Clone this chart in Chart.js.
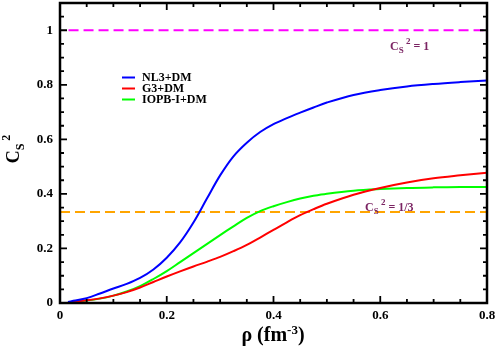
<!DOCTYPE html>
<html>
<head>
<meta charset="utf-8">
<script src="https://cdn.jsdelivr.net/npm/chart.js"></script>
<style>
  body { margin: 0; background: #fff; }
</style>
</head>
<body>
<canvas id="myChart" width="498" height="351"></canvas>
<script>
// density grid (fm^-3) and squared sound speed for each model
const rho  = [0.015, 0.025, 0.05, 0.075, 0.1, 0.125, 0.15, 0.175, 0.2, 0.225, 0.25, 0.275, 0.3, 0.325, 0.35, 0.375, 0.4, 0.425, 0.45, 0.475, 0.5, 0.55, 0.6, 0.65, 0.7, 0.75, 0.8];
const nl3  = [0.004, 0.008, 0.018, 0.035, 0.053, 0.07, 0.092, 0.123, 0.166, 0.222, 0.295, 0.382, 0.468, 0.538, 0.588, 0.627, 0.656, 0.678, 0.698, 0.717, 0.735, 0.763, 0.781, 0.794, 0.803, 0.81, 0.816];
const g3   = [0.003, 0.005, 0.01, 0.017, 0.027, 0.04, 0.057, 0.077, 0.097, 0.116, 0.134, 0.151, 0.169, 0.19, 0.213, 0.24, 0.268, 0.296, 0.322, 0.344, 0.364, 0.397, 0.422, 0.442, 0.457, 0.468, 0.478];
const iopb = [0.003, 0.005, 0.009, 0.016, 0.027, 0.042, 0.062, 0.088, 0.117, 0.15, 0.183, 0.216, 0.249, 0.281, 0.312, 0.337, 0.355, 0.37, 0.383, 0.393, 0.401, 0.412, 0.418, 0.422, 0.424, 0.425, 0.425];
const seriesNames = ['NL3+DM', 'G3+DM', 'IOPB-I+DM'];
const seriesColors = ['#0000ff', '#ff0000', '#00ff00'];

// causal limit and conformal limit
const limitOneX = [0.016, 0.8];
const limitOne = [1, 1];
const limitThirdX = [0, 0.8];
const limitThird = [1 / 3, 1 / 3];

const xTicks = [0, 0.2, 0.4, 0.6, 0.8];
const yTicks = [0, 0.2, 0.4, 0.6, 0.8, 1];

const SERIF = "'Liberation Serif', 'Times New Roman', serif";
const NOTE = '#7b2463';

function pts(xs, ys) {
  return xs.map((x, i) => ({ x: x, y: ys[i] }));
}

// C with subscript S and superscript 2, then optional tail text
function drawCs(ctx, x, y, big, small, sub, sup, tail, tailSize) {
  ctx.font = 'bold ' + big + 'px ' + SERIF;
  ctx.fillText('C', x, y);
  x += ctx.measureText('C').width;
  ctx.font = 'bold ' + small + 'px ' + SERIF;
  ctx.fillText('S', x, y + sub);
  x += ctx.measureText('S ').width;
  ctx.fillText('2', x, y - sup);
  x += ctx.measureText('2').width;
  if (tail) {
    ctx.font = 'bold ' + tailSize + 'px ' + SERIF;
    ctx.fillText(tail, x, y);
  }
}

const decor = {
  id: 'decor',
  afterDraw(chart) {
    const ctx = chart.ctx;
    const a = chart.chartArea;
    const xs = chart.scales.x, ys = chart.scales.y;
    ctx.save();

    // inward ticks on all four sides
    ctx.strokeStyle = '#000';
    ctx.lineWidth = 1.8;
    ctx.beginPath();
    for (let i = 0; i <= 16; i++) {
      const px = xs.getPixelForValue(i * 0.05);
      const len = i % 4 === 0 ? 7 : 4;
      ctx.moveTo(px, a.bottom); ctx.lineTo(px, a.bottom - len);
      ctx.moveTo(px, a.top); ctx.lineTo(px, a.top + len);
    }
    for (let i = 0; i <= 22; i++) {
      const py = ys.getPixelForValue(i * 0.05);
      const len = i % 4 === 0 ? 7 : 4;
      ctx.moveTo(a.left, py); ctx.lineTo(a.left + len, py);
      ctx.moveTo(a.right, py); ctx.lineTo(a.right - len, py);
    }
    ctx.stroke();

    // frame
    ctx.lineWidth = 2.5;
    ctx.strokeRect(a.left, a.top, a.right - a.left, a.bottom - a.top);

    // legend
    ctx.textBaseline = 'middle';
    ctx.textAlign = 'left';
    ctx.font = 'bold 12px ' + SERIF;
    seriesNames.forEach((name, i) => {
      const ly = 77.5 + i * 11;
      ctx.strokeStyle = seriesColors[i];
      ctx.lineWidth = 2;
      ctx.beginPath();
      ctx.moveTo(122, ly); ctx.lineTo(135, ly);
      ctx.stroke();
      ctx.fillStyle = '#000';
      ctx.fillText(name, 142, ly + 0.5);
    });

    // limit notes
    ctx.textBaseline = 'alphabetic';
    ctx.fillStyle = NOTE;
    drawCs(ctx, 390, 50, 12, 9, 3, 6, ' = 1', 12);
    drawCs(ctx, 365, 211, 12, 9, 3, 6, ' = 1/3', 12);

    // y axis title, rotated
    ctx.fillStyle = '#000';
    ctx.save();
    ctx.translate(19, 149);
    ctx.rotate(-Math.PI / 2);
    ctx.font = 'bold 18px ' + SERIF;
    let w = ctx.measureText('C').width;
    ctx.font = 'bold 12px ' + SERIF;
    w += ctx.measureText('S 2').width;
    drawCs(ctx, -w / 2, 0, 18, 12, 5, 9, '', 12);
    ctx.restore();

    // x axis title
    ctx.font = 'bold 20px ' + SERIF;
    const w1 = ctx.measureText('\u03c1 (fm').width;
    const w3 = ctx.measureText(')').width;
    ctx.font = 'bold 13px ' + SERIF;
    const w2 = ctx.measureText('-3').width;
    let tx = 273 - (w1 + w2 + w3) / 2;
    ctx.font = 'bold 20px ' + SERIF;
    ctx.fillText('\u03c1 (fm', tx, 341);
    tx += w1;
    ctx.font = 'bold 13px ' + SERIF;
    ctx.fillText('-3', tx, 334);
    tx += w2;
    ctx.font = 'bold 20px ' + SERIF;
    ctx.fillText(')', tx, 341);

    ctx.restore();
  }
};

const ctx = document.getElementById('myChart').getContext('2d');
const myChart = new Chart(ctx, {
  type: 'line',
  data: {
    datasets: [
      { label: seriesNames[0], data: pts(rho, nl3), borderColor: seriesColors[0] },
      { label: seriesNames[1], data: pts(rho, g3), borderColor: seriesColors[1] },
      { label: seriesNames[2], data: pts(rho, iopb), borderColor: seriesColors[2] },
      { label: 'cs2 = 1', data: pts(limitOneX, limitOne), borderColor: '#ff00ff', borderDash: [10, 5], tension: 0 },
      { label: 'cs2 = 1/3', data: pts(limitThirdX, limitThird), borderColor: '#ffa500', borderDash: [10, 5], tension: 0 }
    ]
  },
  options: {
    responsive: false,
    animation: false,
    layout: { padding: { top: 3, right: 11, left: 0, bottom: 0 } },
    elements: {
      line: { borderWidth: 2, tension: 0.35, fill: false },
      point: { radius: 0 }
    },
    plugins: { legend: { display: false }, tooltip: { enabled: false } },
    scales: {
      x: {
        type: 'linear',
        min: 0,
        max: 0.8,
        afterFit: s => { s.height = 48; s.paddingLeft = 0; s.paddingRight = 0; },
        afterBuildTicks: s => { s.ticks = xTicks.map(v => ({ value: v })); },
        grid: { display: false, drawTicks: false },
        border: { display: false },
        ticks: {
          padding: 5,
          color: '#000',
          font: { family: SERIF, size: 13, weight: 'bold' },
          callback: v => String(v),
          maxRotation: 0
        }
      },
      y: {
        type: 'linear',
        min: 0,
        max: 1.1,
        afterFit: s => { s.width = 60; s.paddingTop = 0; s.paddingBottom = 0; },
        afterBuildTicks: s => { s.ticks = yTicks.map(v => ({ value: v })); },
        grid: { display: false, drawTicks: false },
        border: { display: false },
        ticks: {
          padding: 7,
          color: '#000',
          font: { family: SERIF, size: 13, weight: 'bold' },
          callback: v => String(v)
        }
      }
    }
  },
  plugins: [decor]
});
</script>
</body>
</html>
